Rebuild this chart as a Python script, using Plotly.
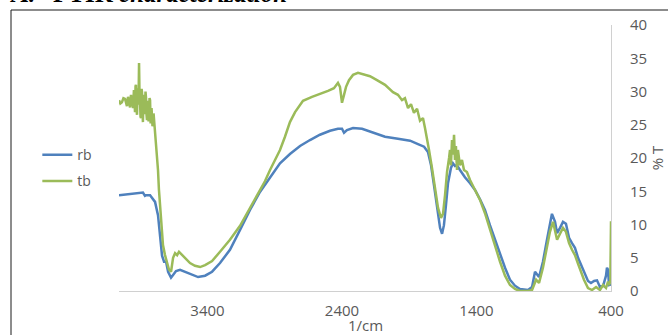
import plotly.graph_objects as go

# Wavenumber (1/cm) and %T for sample "rb"
rb_wn = [4058, 3976, 3902, 3880, 3865, 3857, 3827, 3790, 3768, 3753, 3738, 3723, 3708, 3693,
         3671, 3656, 3634, 3604, 3567, 3515, 3470, 3418, 3366, 3307, 3233, 3158, 3084,
         3010, 2935, 2861, 2787, 2712, 2638, 2564, 2489, 2430, 2400, 2385, 2363, 2318,
         2251, 2170, 2080, 1984, 1894, 1835, 1790, 1761, 1738, 1716, 1694, 1671, 1656,
         1642, 1627, 1612, 1590, 1575, 1560, 1545, 1523, 1486, 1448, 1411, 1374, 1337,
         1300, 1262, 1225, 1188, 1151, 1114, 1077, 1017, 987, 965, 935, 906, 876, 854,
         839, 816, 801, 779, 757, 735, 712, 690, 668, 645, 623, 601, 571, 549, 526, 504,
         482, 459, 437, 430, 422, 415, 407, 400]
rb_t = [14.4, 14.6, 14.7, 14.8, 14.3, 14.4, 14.4, 13.4, 11.4, 8.0, 5.3, 4.4, 4.4, 2.9,
        2.0, 2.4, 3.0, 3.2, 2.9, 2.4, 2.1, 2.3, 2.9, 4.2, 6.2, 9.2, 12.2,
        14.9, 17.1, 19.2, 20.6, 21.8, 22.7, 23.5, 24.1, 24.4, 24.4, 23.8, 24.2, 24.5,
        24.4, 23.8, 23.2, 22.9, 22.6, 22.1, 21.7, 20.9, 18.9, 15.9, 12.5, 9.5, 8.6,
        9.9, 12.9, 16.2, 18.5, 19.2, 18.8, 18.9, 18.2, 17.1, 16.2, 15.2, 13.8, 12.2,
        9.9, 7.7, 5.4, 3.5, 1.7, 0.8, 0.3, 0.15, 0.6, 2.9, 2.1, 4.4, 7.7, 10.4,
        11.6, 10.4, 8.7, 9.5, 10.4, 10.1, 8.0, 7.2, 6.5, 5.0, 3.9, 2.9, 1.5, 1.2, 1.5, 1.6,
        0.6, 0.75, 2.3, 3.5, 3.2, 0.9, 1.0, 1.0]

# Wavenumber (1/cm) and %T for sample "tb"
tb_wn = [4058, 4048, 4036, 4025, 4013, 3999, 3991, 3984, 3976, 3969, 3961, 3954, 3947,
         3943, 3939, 3935, 3932, 3928, 3924, 3920, 3917, 3913, 3909, 3905, 3902, 3898,
         3894, 3890, 3887, 3883, 3880, 3876, 3872, 3868, 3865, 3861, 3857, 3853, 3850,
         3846, 3842, 3838, 3835, 3831, 3827, 3823, 3820, 3816, 3813, 3809, 3805, 3801,
         3798, 3794, 3790, 3783, 3775, 3768, 3761, 3753, 3746, 3738, 3731, 3716, 3701,
         3686, 3671, 3656, 3641, 3626, 3612, 3589, 3560, 3530, 3493, 3455, 3418, 3366,
         3307, 3233, 3158, 3084, 3010, 2973, 2935, 2898, 2861, 2824, 2787, 2749, 2690,
         2623, 2564, 2504, 2460, 2430, 2415, 2407, 2400, 2385, 2370, 2348, 2318, 2281,
         2236, 2192, 2140, 2080, 2021, 1984, 1954, 1932, 1909, 1887, 1865, 1842, 1820,
         1798, 1783, 1768, 1753, 1731, 1709, 1686, 1664, 1649, 1634, 1619, 1604, 1597,
         1590, 1582, 1575, 1567, 1560, 1553, 1545, 1538, 1523, 1508, 1493, 1471, 1448,
         1411, 1374, 1337, 1300, 1262, 1225, 1188, 1151, 1114, 1077, 1017, 987, 957,
         935, 906, 876, 854, 831, 816, 801, 779, 757, 735, 712, 690, 668, 645, 623, 601,
         571, 541, 511, 482, 459, 437, 422, 415, 405, 400]
tb_t = [28.7, 28.2, 28.4, 29.0, 28.9, 27.8, 29.2, 28.3, 27.6, 29.5, 28.0, 27.5, 30.2,
        27.0, 26.9, 30.8, 31.0, 27.4, 26.5, 30.0, 30.5, 28.0, 34.3, 29.0, 28.7, 26.2,
        26.0, 30.4, 29.9, 26.8, 25.4, 29.0, 29.5, 26.6, 27.2, 30.0, 29.0, 26.4, 25.7,
        28.6, 28.0, 25.5, 26.3, 29.0, 28.7, 25.2, 25.7, 27.5, 26.5, 24.8, 25.0, 26.7,
        26.0, 24.0, 23.5, 21.2, 19.7, 18.2, 15.2, 12.9, 10.7, 8.4, 6.9, 5.4, 4.4,
        3.2, 2.9, 5.0, 5.7, 5.4, 5.9, 5.4, 4.8, 4.2, 3.8, 3.6, 3.9, 4.5,
        5.9, 7.7, 9.8, 12.5, 15.2, 16.5, 18.2, 19.7, 21.2, 23.2, 25.4, 26.9, 28.6,
        29.2, 29.6, 30.1, 30.5, 31.3, 30.7, 29.0, 28.3, 29.5, 30.7, 31.7, 32.5, 32.8,
        32.6, 32.3, 31.7, 31.0, 29.9, 29.5, 28.7, 29.0, 27.5, 28.1, 26.8, 27.4, 25.6,
        26.0, 24.5, 23.0, 21.2, 18.5, 15.2, 12.5, 11.0, 11.6, 14.4, 17.9, 20.0, 21.2,
        18.9, 22.7, 20.5, 23.5, 19.7, 21.8, 18.2, 21.2, 18.9, 19.7, 18.2, 17.9, 16.7,
        15.2, 13.7, 11.7, 9.2, 6.6, 4.4, 2.3, 0.9, 0.3, 0.0, 0.0, 0.15, 1.7,
        1.2, 3.5, 6.5, 8.9, 10.4, 9.2, 7.7, 8.6, 9.5, 8.9, 7.2, 6.2, 5.4, 4.1, 2.9, 1.7,
        0.45, 0.15, 0.6, 0.15, 0.9, 0.45, 1.4, 0.9, 1.5, 10.5]

x_ticks = [3400, 2400, 1400, 400]
y_ticks = [0, 5, 10, 15, 20, 25, 30, 35, 40]
x_title = "1/cm"
y_title = "% T"

grey = "#595959"
font_family = "Open Sans"

fig = go.Figure()
fig.add_trace(go.Scatter(x=rb_wn, y=rb_t, mode="lines", name="rb", legendgroup="rb",
                         line=dict(color="#4F81BD", width=2.5)))
fig.add_trace(go.Scatter(x=tb_wn, y=tb_t, mode="lines", name="tb", legendgroup="tb",
                         line=dict(color="#9BBB59", width=2.5)))

fig.update_layout(
    width=668, height=335,
    margin=dict(l=119, r=57, t=25, b=44),
    paper_bgcolor="white", plot_bgcolor="white",
    font=dict(family=font_family, size=15, color=grey),
    showlegend=True,
    legend=dict(x=-0.166, xanchor="left", y=0.571, yanchor="top",
                font=dict(size=14, color=grey), tracegroupgap=5,
                bgcolor="rgba(0,0,0,0)"),
    xaxis=dict(range=[4058, 400], tickvals=x_ticks, ticktext=[str(v) for v in x_ticks],
               showgrid=False, zeroline=False, showline=True, linecolor="#D0D0D0",
               linewidth=1, ticks="", ticklabelstandoff=6, automargin=False,
               tickfont=dict(size=15, color=grey)),
    yaxis=dict(range=[0, 40], tickvals=y_ticks, side="right",
               showgrid=False, zeroline=False, showline=True, linecolor="#D0D0D0",
               linewidth=1, ticks="", ticklabelstandoff=15, automargin=False,
               tickfont=dict(size=15, color=grey),
               title=dict(text=y_title, font=dict(size=15, color=grey), standoff=2)),
)

# x-axis title placed below the tick labels
fig.add_annotation(xref="paper", yref="paper", x=0.5, y=0, yshift=-(325 - 291),
                   xanchor="center", yanchor="middle", showarrow=False, borderpad=0,
                   text=x_title, font=dict(size=15, color=grey))

# outer frame of the chart box (extends beyond the right/bottom edges)
fig.add_shape(type="rect", xref="paper", yref="paper",
              x0=(11 - 119) / 492, x1=1.3, y0=-0.3, y1=(291 - 10) / 266,
              line=dict(color="#1a1a1a", width=1), fillcolor="rgba(0,0,0,0)", layer="below")

# document heading, cropped at the top of the picture (as in the source image)
fig.add_annotation(xref="paper", yref="paper", x=(8 - 119) / 492, y=1, xanchor="left",
                   yanchor="bottom", yshift=16, showarrow=False,
                   text="<b>A.&nbsp;&nbsp;&nbsp;FTIR <i>characterization</i></b>",
                   font=dict(family="Liberation Serif", size=25, color="black"))

fig.write_html("out.html")
